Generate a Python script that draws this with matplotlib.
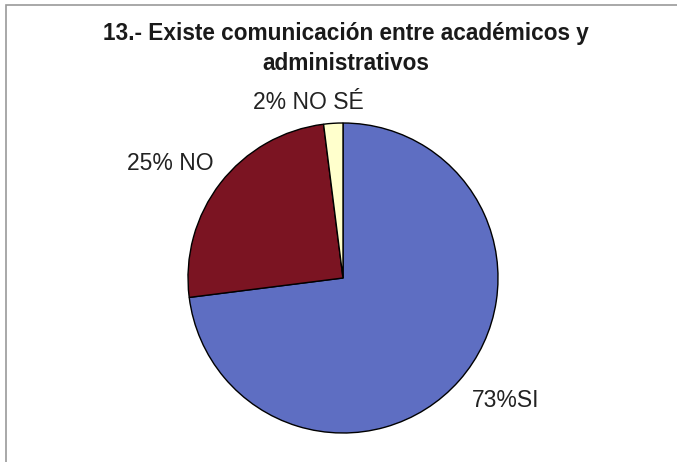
import matplotlib
matplotlib.use("Agg")
import matplotlib.pyplot as plt
from matplotlib.patches import Rectangle
import numpy as np

# Survey answers
categories = ["SI", "NO", "NO SÉ"]
values = [73, 25, 2]
label_texts = ["73%SI", "25% NO", "2% NO SÉ"]
colors = ["#5E6EC2", "#7B1422", "#FFFFCC"]

title_lines = ["13.- Existe comunicación entre académicos y", "administrativos"]

W, H = 677, 462
fig = plt.figure(figsize=(W / 100, H / 100), dpi=100)
fig.patch.set_facecolor("white")

# chart frame (top/left edges visible)
fig.add_artist(Rectangle((6 / W, -0.05), 1.2, (H - 5) / H + 0.05,
                         transform=fig.transFigure, fill=False,
                         edgecolor="#9a9a9a", linewidth=1.2))

cx, cy, r = 343, H - 278, 155
ax = fig.add_axes([(cx - r) / W, (cy - r) / H, 2 * r / W, 2 * r / H])
wedges, _ = ax.pie(values, colors=colors, startangle=90, counterclock=False,
                   radius=1.0,
                   wedgeprops=dict(edgecolor="black", linewidth=1.0))
ax.set_xlim(-1, 1)
ax.set_ylim(-1, 1)
ax.set_aspect("equal")
ax.axis("off")

# label placement: radial distance and angular nudge per slice
label_dist = [1.314, 1.337, 1.152]
label_nudge = [4.6, 4.4, 7.7]
for w, txt, d, nd in zip(wedges, label_texts, label_dist, label_nudge):
    ang = np.deg2rad((w.theta1 + w.theta2) / 2 + nd)
    ax.text(d * np.cos(ang), d * np.sin(ang), txt, ha="center", va="center",
            fontsize=16.5, family="Liberation Sans", color="#222222",
            clip_on=False)

for line, base in zip(title_lines, [40, 70]):
    fig.text(346 / W, 1 - base / H, line, ha="center", va="baseline",
             fontsize=16.3, fontweight="bold", family="Liberation Sans",
             color="#1a1a1a")

fig.savefig("out.png", dpi=100, facecolor="white")
